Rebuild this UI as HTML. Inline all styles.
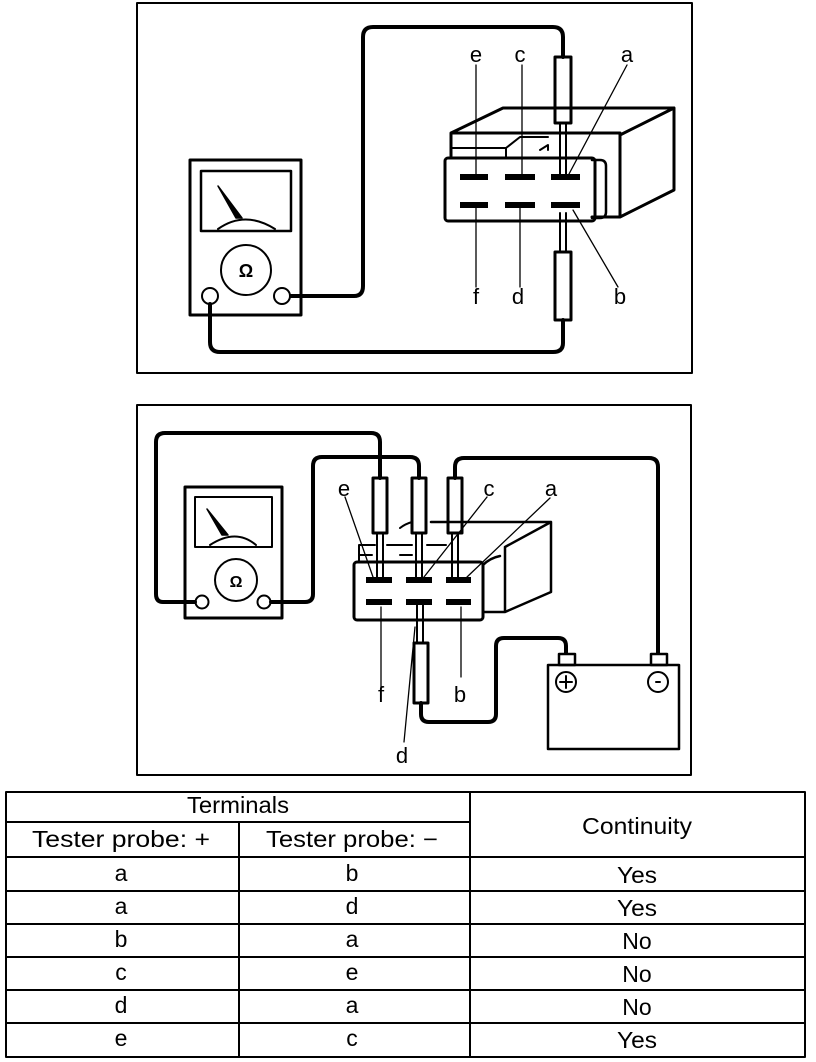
<!DOCTYPE html>
<html><head><meta charset="utf-8"><style>
html,body{margin:0;padding:0;background:#fff;}
svg{display:block}
text{font-family:"Liberation Sans",sans-serif;fill:#000}
</style></head><body>
<svg width="816" height="1062" viewBox="0 0 816 1062" xmlns="http://www.w3.org/2000/svg">
<g fill="none" stroke="#000" stroke-linejoin="round" stroke-linecap="round">
<rect x="137" y="3" width="555" height="370" stroke-width="2"/>
<rect x="190" y="160" width="111" height="155" stroke-width="3"/>
<rect x="201" y="171" width="90" height="60" stroke-width="2.5"/>
<path d="M218,186 L236,218 L242,218 Z" stroke-width="1.5" fill="#000"/>
<path d="M218,229 Q245,210 275,229" stroke-width="2"/>
<circle cx="246" cy="270" r="25" stroke-width="2"/>
<circle cx="210" cy="296" r="8" stroke-width="2"/>
<circle cx="282" cy="296" r="8" stroke-width="2"/>
<path d="M291,296 H354 Q363,296 363,286 V37 Q363,27 373,27 H553 Q563,27 563,37 V57" stroke-width="4"/>
<rect x="555" y="57" width="16" height="66" stroke-width="3"/>
<path d="M560,123 V175 M566,123 V175" stroke-width="2"/>
<path d="M560,213 V252 M566,213 V252" stroke-width="2"/>
<rect x="555" y="252" width="16" height="68" stroke-width="3"/>
<path d="M563,320 V343 Q563,352 553,352 H220 Q210,352 210,342 V304" stroke-width="4"/>
<rect x="445" y="158" width="150" height="63" rx="3" stroke-width="3"/>
<path d="M451,156 V133 L503,108 H674 V190 L620,217 H592 M620,135 V217 M620,135 L674,108 M451,133 H620" stroke-width="3"/>
<path d="M451,157 V148 H506 L520,137 H548 M506,148 V157 M540,150 L548,145 V150" stroke-width="2"/>
<path d="M592,160 H600 Q606,160 606,166 V212 Q606,218 600,218 H592" stroke-width="2.5"/>
<g stroke-width="6" stroke-linecap="butt">
<path d="M460,177 H488 M505,177 H535 M551,177 H580 M460,205 H488 M505,205 H535 M551,205 H580"/>
</g>
<path d="M476,65 V176 M522,65 V176 M627,65 L569,174 M476,208 V287 M520,208 V287 M618,287 L573,210" stroke-width="1.3"/>

<rect x="137" y="405" width="554" height="370" stroke-width="2"/>
<rect x="185" y="487" width="97" height="131" stroke-width="3"/>
<rect x="195" y="497" width="77" height="50" stroke-width="2"/>
<path d="M207,509 L222,535 L228,535 Z" stroke-width="1.5" fill="#000"/>
<path d="M210,545 Q236,528 256,545" stroke-width="2"/>
<circle cx="236" cy="580" r="21" stroke-width="2"/>
<circle cx="202" cy="602" r="6.5" stroke-width="2"/>
<circle cx="264" cy="602" r="6.5" stroke-width="2"/>
<path d="M195,602 H163 Q156,602 156,594 V442 Q156,433 165,433 H371 Q380,433 380,442 V478" stroke-width="4"/>
<path d="M271,602 H305 Q313,602 313,594 V466 Q313,457 322,457 H410 Q419,457 419,466 V478" stroke-width="4"/>
<path d="M455,478 V467 Q455,458 464,458 H649 Q658,458 658,467 V653" stroke-width="4"/>
<rect x="373" y="478" width="14" height="55" stroke-width="3"/>
<rect x="412" y="478" width="14" height="55" stroke-width="3"/>
<rect x="448" y="478" width="14" height="55" stroke-width="3"/>
<path d="M377,533 V578 M383,533 V578 M416,533 V578 M422,533 V578 M452,533 V578 M458,533 V578" stroke-width="2"/>
<rect x="354" y="562" width="129" height="58" rx="3" stroke-width="3"/>
<path d="M431,522 H551 V592 L505,612 M505,547 V612 M505,547 L551,522 M483,565 Q490,558 500,556 M483,612 H505" stroke-width="2.5"/>
<path d="M359,562 V545 H375 M400,528 Q405,524 412,522 M360,555 H372 M427,545 H446 M387,545 H412 M400,555 H412" stroke-width="2"/>
<g stroke-width="6" stroke-linecap="butt">
<path d="M366,580 H392 M406,580 H432 M446,580 H471 M366,602 H392 M406,602 H432 M446,602 H471"/>
</g>
<path d="M417,605 V643 M423,605 V643" stroke-width="2"/>
<rect x="414" y="643" width="14" height="60" stroke-width="3"/>
<path d="M421,703 V714 Q421,722 429,722 H488 Q496,722 496,714 V646 Q496,638 504,638 H558 Q566,638 566,646 V653" stroke-width="4"/>
<rect x="548" y="665" width="131" height="84" stroke-width="2.5"/>
<rect x="559" y="654" width="16" height="11" stroke-width="2.5"/>
<rect x="651" y="654" width="16" height="11" stroke-width="2.5"/>
<circle cx="566" cy="682" r="10" stroke-width="2"/>
<circle cx="658" cy="682" r="10" stroke-width="2"/>
<path d="M560,682 H572 M566,676 V688 M656,682 H660" stroke-width="2"/>
<path d="M345,497 L373,577 M487,497 L424,577 M550,498 L467,577 M381,607 V687 M461,607 V677 M415,627 L404,742" stroke-width="1.3"/>

<g stroke-width="2" stroke-linecap="butt">
<rect x="6" y="792" width="799" height="265"/>
<path d="M6,822 H470 M6,857 H805 M239,822 V1057 M470,792 V1057 M6,891 H805 M6,924 H805 M6,957 H805 M6,990 H805 M6,1023 H805"/>
</g>
</g>
<g font-size="22">
<text x="476" y="62" text-anchor="middle">e</text>
<text x="520" y="62" text-anchor="middle">c</text>
<text x="627" y="62" text-anchor="middle">a</text>
<text x="476" y="304" text-anchor="middle">f</text>
<text x="518" y="304" text-anchor="middle">d</text>
<text x="620" y="304" text-anchor="middle">b</text>
<text x="344" y="496" text-anchor="middle">e</text>
<text x="489" y="496" text-anchor="middle">c</text>
<text x="551" y="496" text-anchor="middle">a</text>
<text x="381" y="702" text-anchor="middle">f</text>
<text x="460" y="702" text-anchor="middle">b</text>
<text x="402" y="763" text-anchor="middle">d</text>
<text x="236" y="587" text-anchor="middle" font-size="16" font-weight="bold" font-family="Liberation Serif">Ω</text>
<text x="246" y="277" text-anchor="middle" font-size="18" font-weight="bold" font-family="Liberation Serif">Ω</text>
</g>
<g font-size="23" text-anchor="middle">
<text x="238" y="813" textLength="102" lengthAdjust="spacingAndGlyphs">Terminals</text>
<text x="121" y="847" textLength="178" lengthAdjust="spacingAndGlyphs">Tester probe: +</text>
<text x="352" y="847" textLength="172" lengthAdjust="spacingAndGlyphs">Tester probe: −</text>
<text x="637" y="834" textLength="110" lengthAdjust="spacingAndGlyphs">Continuity</text>
<text x="121" y="881">a</text><text x="352" y="881">b</text><text x="637" y="883" textLength="40" lengthAdjust="spacingAndGlyphs">Yes</text>
<text x="121" y="914">a</text><text x="352" y="914">d</text><text x="637" y="916" textLength="40" lengthAdjust="spacingAndGlyphs">Yes</text>
<text x="121" y="947">b</text><text x="352" y="947">a</text><text x="637" y="949">No</text>
<text x="121" y="980">c</text><text x="352" y="980">e</text><text x="637" y="982">No</text>
<text x="121" y="1013">d</text><text x="352" y="1013">a</text><text x="637" y="1015">No</text>
<text x="121" y="1046">e</text><text x="352" y="1046">c</text><text x="637" y="1048" textLength="40" lengthAdjust="spacingAndGlyphs">Yes</text>
</g>
</svg>
</body></html>
